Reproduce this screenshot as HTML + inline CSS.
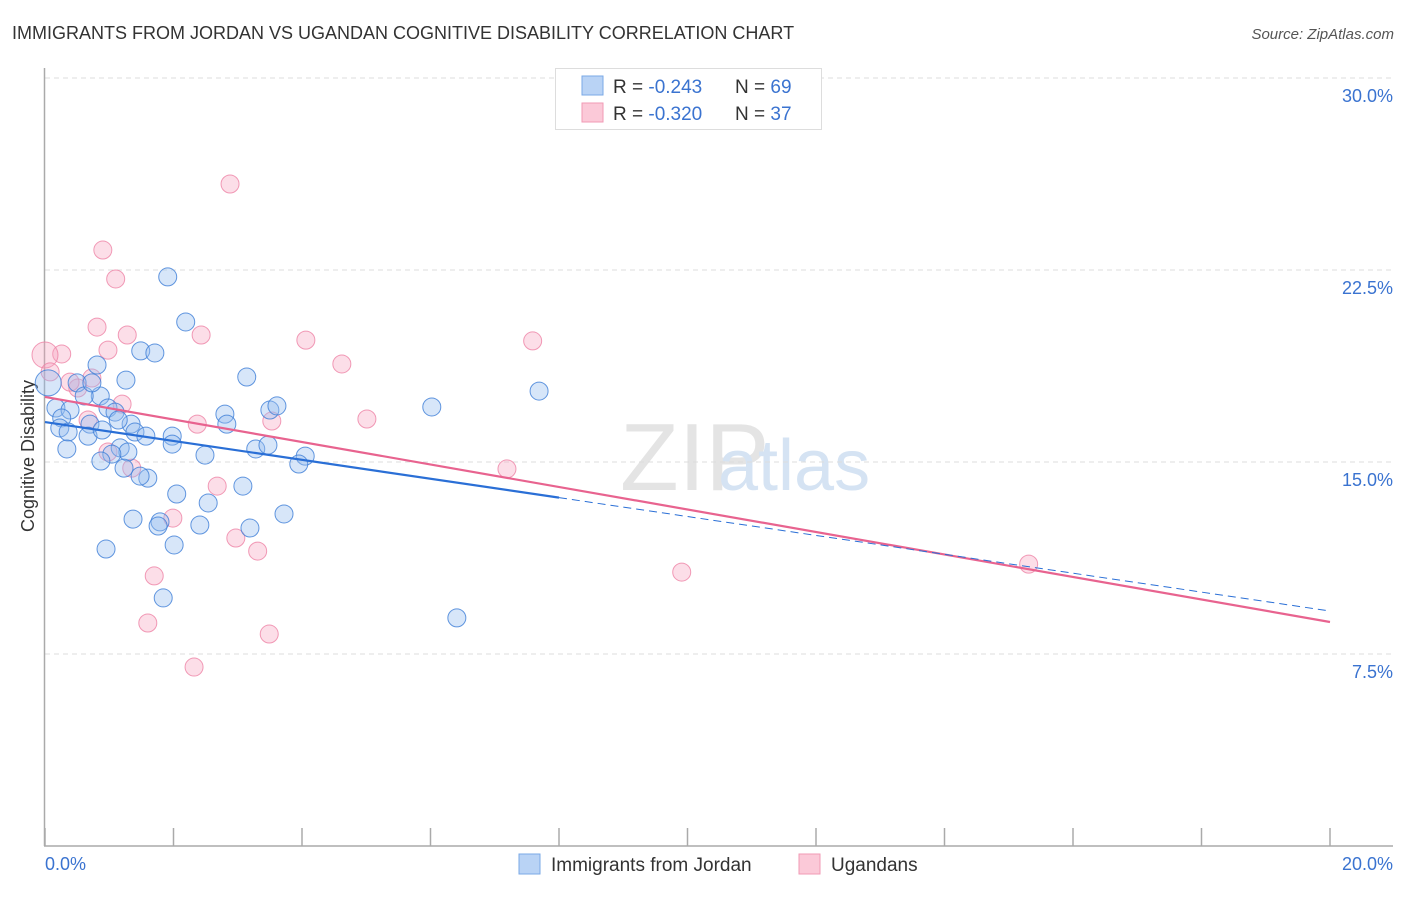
<!DOCTYPE html>
<html><head><meta charset="utf-8"><style>
body{margin:0;background:#fff;font-family:"Liberation Sans",sans-serif;}
svg text{font-family:"Liberation Sans",sans-serif;}
</style></head><body>
<svg width="1406" height="892" xmlns="http://www.w3.org/2000/svg">
<text x="12" y="39" font-size="18" fill="#333">IMMIGRANTS FROM JORDAN VS UGANDAN COGNITIVE DISABILITY CORRELATION CHART</text>
<text x="1394" y="39" font-size="15" fill="#555" font-style="italic" text-anchor="end">Source: ZipAtlas.com</text>
<text x="620" y="490" font-size="96" fill="#e4e4e4" font-family="Liberation Serif">ZIP</text>
<text x="718" y="490" font-size="72" fill="#d5e3f3">atlas</text>
<g id="grid"></g>
<g id="axes"></g>
<text transform="translate(34,456) rotate(-90)" font-size="18" fill="#333" text-anchor="middle">Cognitive Disability</text>
<text x="45" y="870" font-size="18" fill="#3a73d0">0.0%</text>
<text x="1393" y="870" font-size="18" fill="#3a73d0" text-anchor="end">20.0%</text>
<g id="pts"></g>
<g id="lines"></g>
<g>
<rect x="555.5" y="68.5" width="266" height="61" fill="#fff" stroke="#ddd"/>
<rect x="582" y="76" width="21" height="19" fill="#b9d3f5" stroke="#7aa8e6"/>
<rect x="582" y="103" width="21" height="19" fill="#fbc9d8" stroke="#f09ab5"/>
<text x="613" y="93" font-size="19" fill="#333">R = <tspan fill="#3a73d0">-0.243</tspan><tspan x="735">N = </tspan><tspan fill="#3a73d0">69</tspan></text>
<text x="613" y="120" font-size="19" fill="#333">R = <tspan fill="#3a73d0">-0.320</tspan><tspan x="735">N = </tspan><tspan fill="#3a73d0">37</tspan></text>
</g>
<g>
<rect x="519" y="854" width="21" height="20" fill="#b9d3f5" stroke="#7aa8e6"/>
<text x="551" y="871" font-size="19" fill="#333">Immigrants from Jordan</text>
<rect x="799" y="854" width="21" height="20" fill="#fbc9d8" stroke="#f09ab5"/>
<text x="831" y="871" font-size="19" fill="#333">Ugandans</text>
</g>
</svg>
<script>
const yTicks=[7.5,15,22.5,30];
const yTickLabels=["7.5%","15.0%","22.5%","30.0%"];
const xTicks=[0,2,4,6,8,10,12,14,16,18,20];
const jordanX=[1.91,2.19,1.49,1.71,0.81,1.26,3.14,0.50,0.05,0.86,0.61,0.17,0.39,0.98,1.09,1.34,1.14,0.70,0.26,2.80,2.83,3.50,3.61,0.23,0.36,0.67,0.89,1.40,1.57,1.98,1.98,1.17,1.29,1.04,3.28,3.47,4.05,3.95,2.49,0.34,0.87,1.23,1.60,1.48,2.05,3.08,2.54,3.72,1.37,1.79,1.76,2.41,3.19,2.01,0.95,1.84,6.02,7.69,6.41,0.73];
const jordanY=[22.23,20.47,19.34,19.26,18.79,18.20,18.32,18.09,18.09,17.58,17.58,17.11,17.03,17.11,16.95,16.48,16.64,16.48,16.72,16.87,16.48,17.03,17.19,16.33,16.17,16.01,16.25,16.17,16.01,16.01,15.70,15.55,15.39,15.31,15.51,15.66,15.23,14.92,15.27,15.51,15.04,14.76,14.37,14.45,13.75,14.06,13.40,12.97,12.77,12.66,12.50,12.54,12.42,11.76,11.60,9.69,17.15,17.77,8.91,18.09];
const ugandaX=[2.88,0.90,1.10,0.81,1.28,2.43,4.06,7.59,0.98,0.26,0.0,4.62,0.08,0.73,0.51,1.20,5.01,0.67,3.53,2.37,0.98,1.35,7.19,2.68,1.99,2.97,3.31,15.31,9.91,1.70,1.60,3.49,2.32,0.39];
const ugandaY=[25.86,23.28,22.15,20.27,19.96,19.96,19.76,19.73,19.37,19.22,19.18,18.83,18.52,18.28,17.89,17.26,16.68,16.64,16.60,16.48,15.39,14.76,14.73,14.06,12.81,12.03,11.52,11.01,10.70,10.55,8.71,8.28,6.99,18.12];
const jordanFit=[16.56,9.18];
const ugandaFit=[17.54,8.75];
const blueSolidEnd=8.0;
const X=v=>45+v/20*1285, Y=v=>846-v/7.5*192;
const NS="http://www.w3.org/2000/svg";
function mk(tag,attrs,parent){const e=document.createElementNS(NS,tag);for(const k in attrs)e.setAttribute(k,attrs[k]);document.getElementById(parent).appendChild(e);return e;}
yTicks.forEach((t,i)=>{
 const l=mk('line',{x1:45,x2:1393,y1:Y(t),y2:Y(t),stroke:'#ddd','stroke-dasharray':'5,4'},'grid');
 
 
 const tx=mk('text',{x:1393,y:Y(t)+24,'font-size':18,fill:'#3a73d0','text-anchor':'end'},'grid');
 tx.textContent=yTickLabels[i];
 
 
});
const ax=mk('line',{x1:44.5,x2:44.5,y1:68,y2:846,stroke:'#aaa','stroke-width':1.5},'axes');


const bx=mk('line',{x1:44,x2:1393,y1:846,y2:846,stroke:'#aaa','stroke-width':1.5},'axes');


xTicks.forEach(t=>{
 const l=mk('line',{x1:X(t),x2:X(t),y1:828,y2:846,stroke:'#aaa','stroke-width':1.5},'axes');
 
 
});
ugandaX.forEach((x,i)=>{
 const big=x<0.05;
 const c=mk('circle',{cx:X(x),cy:Y(ugandaY[i]),r:big?13:9,fill:'rgba(247,160,190,0.35)',stroke:'rgba(238,130,165,0.8)','stroke-width':1},'pts');
 
 
});
jordanX.forEach((x,i)=>{
 const big=x<0.1;
 const c=mk('circle',{cx:X(x),cy:Y(jordanY[i]),r:big?13:9,fill:'rgba(150,190,240,0.38)',stroke:'rgba(60,125,215,0.8)','stroke-width':1},'pts');
 
 
});
const fy=(f,x)=>f[0]+(f[1]-f[0])*x/20;
let l=mk('line',{x1:X(0),y1:Y(fy(ugandaFit,0)),x2:X(20),y2:Y(fy(ugandaFit,20)),stroke:'#e8638f','stroke-width':2.2},'lines');


l=mk('line',{x1:X(0),y1:Y(fy(jordanFit,0)),x2:X(blueSolidEnd),y2:Y(fy(jordanFit,blueSolidEnd)),stroke:'#2a6fd6','stroke-width':2.2},'lines');


l=mk('line',{x1:X(blueSolidEnd),y1:Y(fy(jordanFit,blueSolidEnd)),x2:X(20),y2:Y(fy(jordanFit,20)),stroke:'#2a6fd6','stroke-width':1,'stroke-dasharray':'8,5'},'lines');


</script>
</body></html>
